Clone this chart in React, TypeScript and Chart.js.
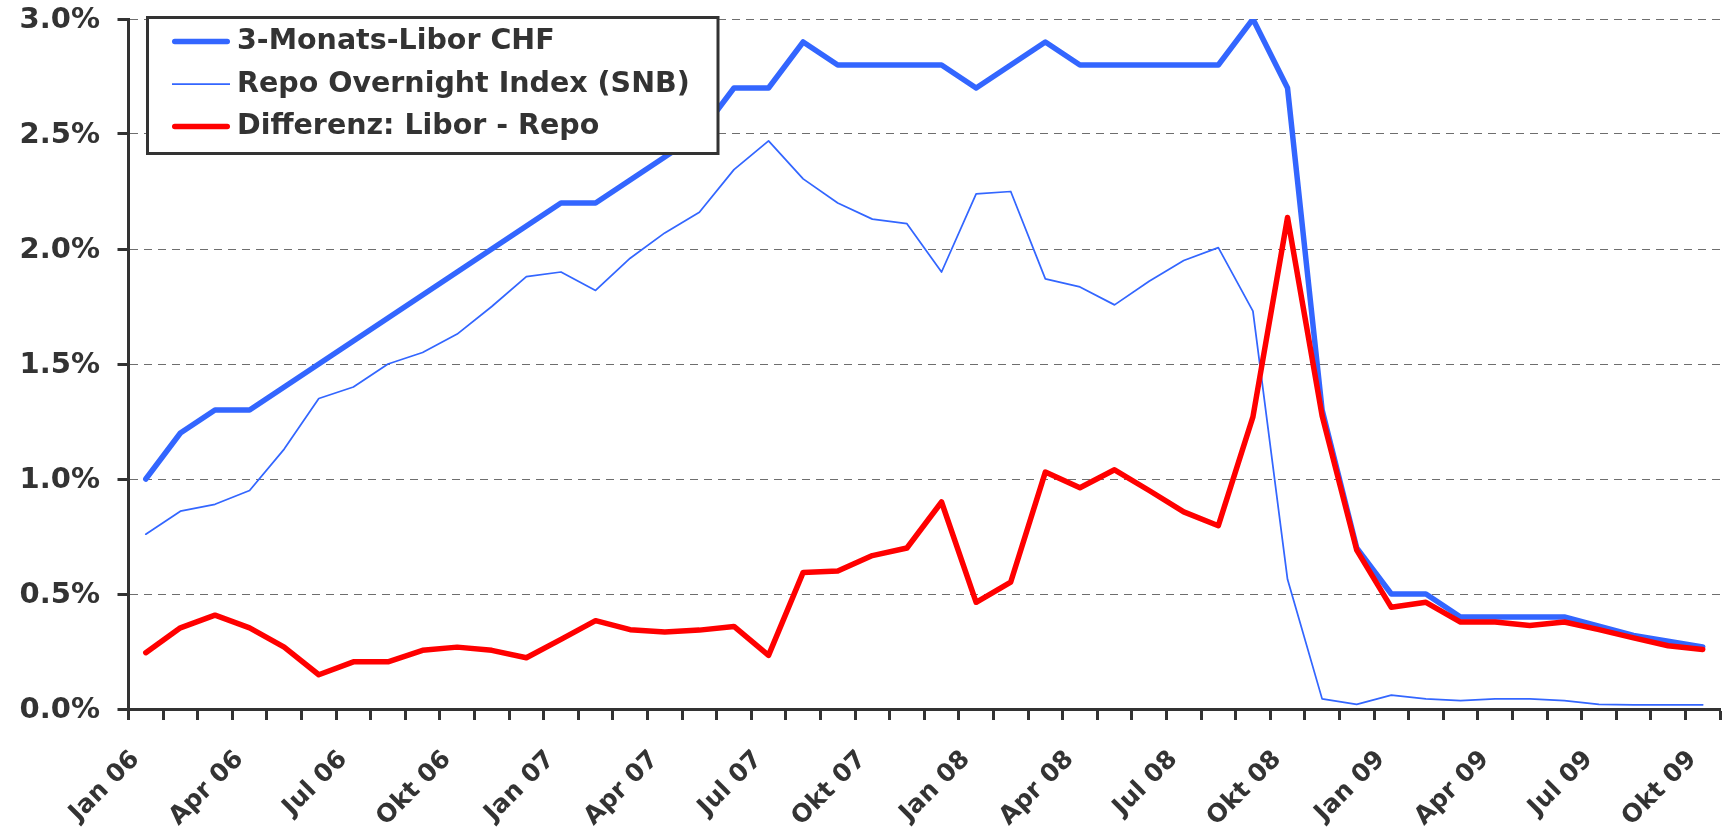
import { useEffect, useRef } from "react";
import { Chart, registerables } from "chart.js";

Chart.register(...registerables);

const months = [
  "Jan 06", "Feb 06", "Mär 06", "Apr 06", "Mai 06", "Jun 06", "Jul 06", "Aug 06", "Sep 06", "Okt 06", "Nov 06", "Dez 06",
  "Jan 07", "Feb 07", "Mär 07", "Apr 07", "Mai 07", "Jun 07", "Jul 07", "Aug 07", "Sep 07", "Okt 07", "Nov 07", "Dez 07",
  "Jan 08", "Feb 08", "Mär 08", "Apr 08", "Mai 08", "Jun 08", "Jul 08", "Aug 08", "Sep 08", "Okt 08", "Nov 08", "Dez 08",
  "Jan 09", "Feb 09", "Mär 09", "Apr 09", "Mai 09", "Jun 09", "Jul 09", "Aug 09", "Sep 09", "Okt 09",
];

const libor = [
  1.0, 1.2, 1.3, 1.3, 1.4, 1.5, 1.6, 1.7, 1.8, 1.9, 2.0, 2.1, 2.2, 2.2, 2.3, 2.4,
  2.5, 2.7, 2.7, 2.9, 2.8, 2.8, 2.8, 2.8, 2.7, 2.8, 2.9, 2.8, 2.8, 2.8, 2.8,
  2.8, 3.0, 2.7, 1.3, 0.7, 0.5, 0.5, 0.4, 0.4, 0.4, 0.4, 0.36, 0.32, 0.295, 0.27,
];

const repo = [
  0.76, 0.86, 0.89, 0.95, 1.13, 1.35, 1.40, 1.50, 1.55, 1.63, 1.75, 1.88, 1.90, 1.82, 1.96, 2.07,
  2.16, 2.345, 2.47, 2.305, 2.20, 2.13, 2.11, 1.90, 2.24, 2.25, 1.87, 1.835, 1.757, 1.86, 1.95,
  2.006, 1.73, 0.564, 0.044, 0.02, 0.06, 0.044, 0.036, 0.044, 0.044, 0.036, 0.02, 0.018, 0.018, 0.018,
];

const differenz = [
  0.245, 0.353, 0.408, 0.353, 0.269, 0.149, 0.205, 0.205, 0.255, 0.269, 0.255, 0.223, 0.303, 0.384, 0.345, 0.335,
  0.343, 0.359, 0.233, 0.594, 0.60, 0.667, 0.70, 0.90, 0.464, 0.552, 1.03, 0.962, 1.04, 0.95, 0.857,
  0.797, 1.27, 2.137, 1.275, 0.691, 0.442, 0.464, 0.378, 0.378, 0.363, 0.378, 0.345, 0.309, 0.275, 0.259,
];

const seriesNames = ["3-Monats-Libor CHF", "Repo Overnight Index (SNB)", "Differenz: Libor - Repo"];

const FONT = "'DejaVu Sans', Verdana, sans-serif";
const TEXT = "#333333";
const BLUE = "#3366ff";
const RED = "#ff0000";

const boxLegend = {
  id: "boxLegend",
  afterDraw(chart: any) {
    const ctx = chart.ctx;
    const L = 147.5, T = 17.5, R = 718, B = 153.5;
    ctx.save();
    ctx.fillStyle = "#ffffff";
    ctx.fillRect(L, T, R - L, B - T);
    ctx.lineWidth = 3;
    ctx.strokeStyle = TEXT;
    ctx.strokeRect(L, T, R - L, B - T);
    chart.data.datasets.forEach((ds: any, i: number) => {
      const y = 41.5 + i * 42.5;
      ctx.beginPath();
      ctx.lineCap = ds.borderWidth > 3 ? "round" : "butt";
      ctx.strokeStyle = ds.borderColor;
      ctx.lineWidth = ds.borderWidth;
      const inset = ds.borderWidth > 3 ? ds.borderWidth / 2 : 0;
      ctx.moveTo(172 + inset, y);
      ctx.lineTo(230 - inset, y);
      ctx.stroke();
      ctx.fillStyle = TEXT;
      ctx.font = `bold 28.5px ${FONT}`;
      ctx.textBaseline = "middle";
      ctx.textAlign = "left";
      ctx.fillText(ds.label, 237, y + 0.5);
    });
    ctx.restore();
  },
};

export default function App() {
  const ref = useRef<HTMLCanvasElement | null>(null);

  useEffect(() => {
    document.body.style.margin = "0";
    if (!ref.current) return;
    Chart.defaults.font.family = FONT;
    Chart.defaults.font.weight = "bold";
    Chart.defaults.font.size = 28;
    Chart.defaults.color = TEXT;

    const chart = new Chart(ref.current, {
      type: "line",
      data: {
        labels: months,
        datasets: [
          {
            label: seriesNames[0],
            data: libor,
            borderColor: BLUE,
            backgroundColor: BLUE,
            borderWidth: 5.5,
            order: 3,
          },
          {
            label: seriesNames[1],
            data: repo,
            borderColor: BLUE,
            backgroundColor: BLUE,
            borderWidth: 1.75,
            order: 2,
          },
          {
            label: seriesNames[2],
            data: differenz,
            borderColor: RED,
            backgroundColor: RED,
            borderWidth: 5.5,
            order: 1,
          },
        ],
      },
      options: {
        animation: false,
        responsive: true,
        maintainAspectRatio: false,
        elements: {
          point: { radius: 0, hoverRadius: 0 },
          line: { tension: 0, fill: false, borderJoinStyle: "round", borderCapStyle: "round" },
        },
        layout: { padding: { top: 19, right: 5, bottom: 0, left: 0 } },
        plugins: {
          legend: { display: false },
          tooltip: { enabled: false },
        },
        scales: {
          x: {
            type: "category",
            offset: true,
            grid: {
              display: true,
              offset: true,
              drawOnChartArea: false,
              drawTicks: true,
              tickLength: 11,
              tickWidth: 3,
              tickColor: TEXT,
              color: TEXT,
            },
            border: { display: true, color: TEXT, width: 3 },
            ticks: {
              autoSkip: false,
              minRotation: 45,
              maxRotation: 45,
              padding: 25,
              labelOffset: -10,
              color: TEXT,
              font: { size: 25, weight: "bold", family: FONT },
              callback: (_v: any, i: number) => (i % 3 === 0 ? months[i] : ""),
            },
            afterFit: (scale: any) => {
              scale.height = 122;
              scale.paddingLeft = 0;
              scale.paddingRight = 0;
            },
          },
          y: {
            min: 0,
            max: 3.0,
            grid: {
              display: true,
              color: "#6e6e6e",
              lineWidth: 1,
              drawTicks: true,
              tickLength: 11,
              tickWidth: 3,
              tickColor: TEXT,
            },
            border: { display: true, color: TEXT, width: 3, dash: [8, 6] },
            ticks: {
              stepSize: 0.5,
              padding: 17.5,
              labelOffset: 1.5,
              color: TEXT,
              font: { size: 29, weight: "bold", family: FONT },
              callback: (v: any) => Number(v).toFixed(1) + "%",
            },
            afterFit: (scale: any) => {
              scale.width = 128.5;
              scale.paddingTop = 0;
              scale.paddingBottom = 0;
            },
          },
        },
      },
      plugins: [boxLegend],
    });
    return () => chart.destroy();
  }, []);

  return (
    <div style={{ position: "absolute", left: 0, top: 0, width: 1725, height: 831 }}>
      <canvas ref={ref} />
    </div>
  );
}
